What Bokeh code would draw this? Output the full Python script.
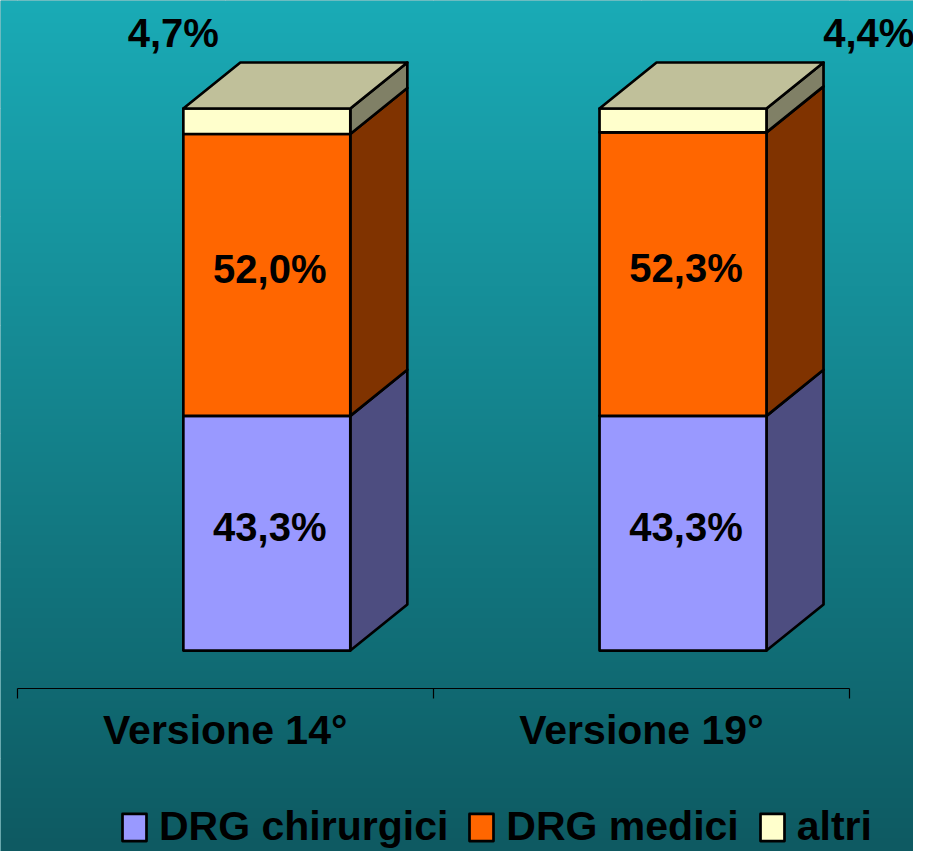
import numpy as np
from bokeh.plotting import figure
from bokeh.models import Range1d, LinearAxis, FixedTicker, Legend, LegendItem, ColumnDataSource
from bokeh.core.properties import value
from bokeh.embed import file_html
from bokeh.resources import INLINE

# ---------------- data ----------------
categories = ["Versione 14°", "Versione 19°"]
series_names = ["DRG chirurgici", "DRG medici", "altri"]
chirurgici = [43.3, 43.3]
medici = [52.0, 52.3]
altri = [4.7, 4.4]

# ---------------- style / layout ----------------
front_colors = ["#9999FF", "#FF6600", "#FFFFCC"]
side_colors = ["#4D4D80", "#803300", "#808066"]
top_color = "#C0C09A"
FONT = "Liberation Sans"
LW = 2.7

W, H = 913, 851
X0, X1 = -0.0399, 2.1538
Y0, Y1 = -37.08, 119.93
AXIS_Y = -6.96
BAR_SHIFT = 0.1       # bar centre offset from category centre
HALF = 0.2006         # half width of the bar front
DX, DY = 0.137, 8.49  # 3D depth offsets
TOP_LABEL_DX = [-0.232, 0.439]
TOP_LABEL_Y = 112.9

p = figure(width=W, height=H, output_backend="svg", toolbar_location=None,
           x_range=Range1d(X0, X1), y_range=Range1d(Y0, Y1),
           x_axis_location=None, y_axis_location=None,
           min_border=0, min_border_left=0, min_border_right=0,
           min_border_top=0, min_border_bottom=0)
p.outline_line_color = None
p.background_fill_color = "#13858D"
p.border_fill_color = "#13858D"

# background gradient (decoration)
n = 256
t = np.linspace(0.0, 1.0, n)[:, None]
c_top = np.array([26, 171, 182], dtype=float)
c_bot = np.array([14, 90, 98], dtype=float)
cols = c_bot + (c_top - c_bot) * t
img = np.zeros((n, 1), dtype=np.uint32)
view = img.view(dtype=np.uint8).reshape((n, 1, 4))
view[:, 0, 0] = cols[:, 0]
view[:, 0, 1] = cols[:, 1]
view[:, 0, 2] = cols[:, 2]
view[:, 0, 3] = 255
p.image_rgba(image=[img], x=X0, y=Y0, dw=X1 - X0, dh=Y1 - Y0)

# ---------------- 3D stacked bars ----------------
stack = [chirurgici, medici, altri]
centers = [i + 0.5 + BAR_SHIFT for i in range(len(categories))]
lefts = [c - HALF for c in centers]
rights = [c + HALF for c in centers]
base = [0.0] * len(categories)
front_renderers = []
for k, vals in enumerate(stack):
    bots = list(base)
    tops = [b + v for b, v in zip(bots, vals)]
    # side faces
    xs = [[r, r + DX, r + DX, r] for r in rights]
    ys = [[b, b + DY, tp + DY, tp] for b, tp in zip(bots, tops)]
    p.patches(xs, ys, fill_color=side_colors[k], line_color="black",
              line_width=LW, line_join="round")
    src = ColumnDataSource(dict(left=lefts, right=rights, bottom=bots, top=tops))
    r = p.quad(left="left", right="right", bottom="bottom", top="top", source=src,
               fill_color=front_colors[k], line_color="black", line_width=LW,
               line_join="round")
    front_renderers.append(r)
    base = tops

# top face
xs = [[l, l + DX, r + DX, r] for l, r in zip(lefts, rights)]
ys = [[tp, tp + DY, tp + DY, tp] for tp in base]
p.patches(xs, ys, fill_color=top_color, line_color="black", line_width=LW,
          line_join="round")

# ---------------- value labels ----------------
def fmt(v):
    return f"{v:.1f}".replace(".", ",") + "%"

lab_x, lab_y, lab_t = [], [], []
base = [0.0] * len(categories)
for k, vals in enumerate(stack[:2]):
    for i, v in enumerate(vals):
        lab_x.append(centers[i])
        lab_y.append(base[i] + v / 2.0)
        lab_t.append(fmt(v))
    base = [b + v for b, v in zip(base, vals)]
for i, v in enumerate(altri):
    lab_x.append(centers[i] + TOP_LABEL_DX[i])
    lab_y.append(TOP_LABEL_Y)
    lab_t.append(fmt(v))

p.text(x=lab_x, y=lab_y, text=lab_t, text_font=value(FONT), text_font_style="bold",
       text_font_size="40px", text_align="center", text_baseline="middle",
       text_color="black", x_offset=3, y_offset=-6)

# ---------------- category axis ----------------
ticker = FixedTicker(ticks=[i + 0.5 for i in range(len(categories))],
                     minor_ticks=[float(i) for i in range(len(categories) + 1)])
ax = LinearAxis(ticker=ticker, fixed_location=AXIS_Y, bounds=(0, len(categories)),
                major_label_overrides={i + 0.5: c for i, c in enumerate(categories)},
                major_tick_out=0, major_tick_in=0, minor_tick_out=10, minor_tick_in=0,
                axis_line_color="black", axis_line_width=1.2,
                minor_tick_line_color="black", minor_tick_line_width=1.2,
                major_label_standoff=9,
                major_label_text_font=FONT, major_label_text_font_style="bold",
                major_label_text_font_size="41px", major_label_text_color="black")
p.add_layout(ax, "below")

# ---------------- legend ----------------
legend = Legend(items=[LegendItem(label=nm, renderers=[r])
                       for nm, r in zip(series_names, front_renderers)],
                orientation="horizontal", location=(119, 1),
                glyph_width=30, glyph_height=34, label_standoff=10, spacing=18,
                padding=0, margin=0, background_fill_alpha=0, border_line_alpha=0,
                label_text_font=FONT, label_text_font_style="bold",
                label_text_font_size="41px", label_text_color="black")
p.add_layout(legend)

open("out.html", "w").write(file_html(p, INLINE))
